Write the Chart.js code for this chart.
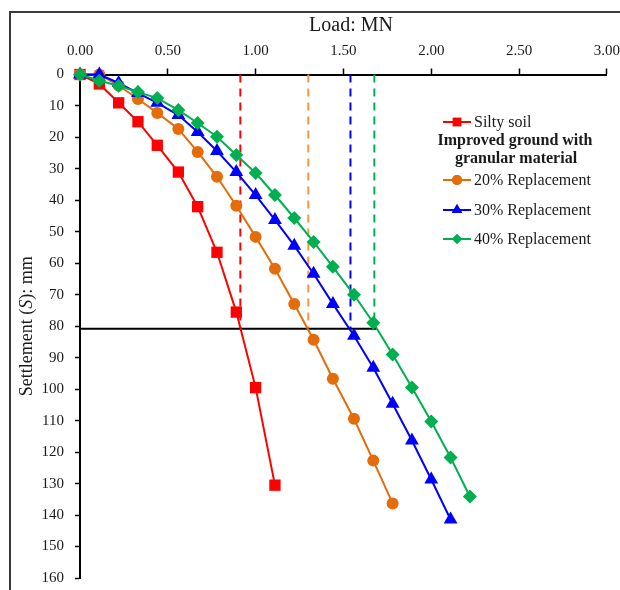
<!DOCTYPE html>
<html>
<head>
<meta charset="utf-8">
<script src="https://cdn.jsdelivr.net/npm/chart.js@4.4.1/dist/chart.umd.min.js"></script>
<style>
  body { margin: 0; background: #fff; overflow: hidden; }
  #frame { position: absolute; left: 9px; top: 11px; width: 700px; height: 700px; border: 2px solid #3a3a3a; }
  #myChart { position: absolute; left: 0; top: 0; }
</style>
</head>
<body>
<div id="frame"></div>
<canvas id="myChart" width="628" height="598"></canvas>
<script>
// loads (MN) at each stage
const loads = [0, 0.11, 0.22, 0.33, 0.44, 0.56, 0.67, 0.78, 0.89, 1.00, 1.11, 1.22, 1.33, 1.44, 1.56, 1.67, 1.78, 1.89, 2.00, 2.11, 2.22];
// settlements (mm)
const silty = [0, 3, 9, 15, 22.5, 31, 42, 56.5, 75.5, 99.5, 130.5];
const rep20 = [0, 0, 3.5, 7.8, 12.2, 17.3, 24.6, 32.5, 41.7, 51.6, 61.7, 72.9, 84.3, 96.7, 109.4, 122.7, 136.3];
const rep30 = [0, 0, 2.7, 5.9, 9.0, 12.9, 18.3, 24.3, 31.0, 38.3, 46.2, 54.4, 63.3, 72.9, 83.0, 93.2, 104.6, 116.3, 128.7, 141.4];
const rep40 = [0, 2, 3.6, 5.6, 7.5, 11.3, 15.4, 19.8, 25.6, 31.3, 38.3, 45.6, 53.2, 61.1, 70.0, 78.9, 89.0, 99.5, 110.3, 121.7, 134.1];
// ultimate loads read at the limit settlement
const limitSettlement = 80.8;
const ultimateLoads = [0.913, 1.30, 1.54, 1.676];
const limitLineEnd = 1.69;

const xTicks = [0, 0.5, 1, 1.5, 2, 2.5, 3];
const serif = "'Liberation Serif', 'Times New Roman', serif";
const txt = '#1a1a1a';

const seriesNames = ['Silty soil', '20% Replacement', '30% Replacement', '40% Replacement'];
const seriesColors = ['#FF0000', '#E46C0A', '#0000FF', '#00B050'];
const dashColors = ['#FF0000', '#F79646', '#0000FF', '#00B050'];
const seriesStyles = ['rect', 'circle', 'triangle', 'rectRot'];
const seriesRadius = [8, 6, 8, 7];
const seriesData = [silty, rep20, rep30, rep40];

function pts(vals){
    return vals.map((v, i) => ({x: loads[i], y: v}));
}

const datasets = [];
// curves, green on top
for (let i = 0; i < 4; i++) {
    datasets.push({
        label: seriesNames[i],
        data: pts(seriesData[i]),
        borderColor: seriesColors[i],
        backgroundColor: seriesColors[i],
        borderWidth: 2,
        pointStyle: seriesStyles[i],
        pointRadius: seriesRadius[i],
        pointBorderWidth: 0,
        pointHoverRadius: seriesRadius[i],
        clip: false,
        order: 4 - i
    });
}
// limit settlement line
datasets.push({
    label: 'limit',
    data: [{x: 0, y: limitSettlement}, {x: limitLineEnd, y: limitSettlement}],
    borderColor: '#000',
    borderWidth: 2,
    pointRadius: 0,
    clip: false,
    order: 10
});
for (let i = 0; i < 4; i++) {
    datasets.push({
        label: 'ult' + i,
        data: [{x: ultimateLoads[i], y: 0}, {x: ultimateLoads[i], y: limitSettlement}],
        borderColor: dashColors[i],
        borderWidth: 2,
        borderDash: [8, 6],
        pointRadius: 0,
        clip: false,
        order: 10
    });
}

const legendPlugin = {
    id: 'customLegend',
    afterDraw(chart){
        const c = chart.ctx;
        const h = Chart.helpers;
        c.save();
        c.fillStyle = txt;
        c.textBaseline = 'middle';
        const rows = [[0, 122], [1, 180], [2, 210], [3, 239]];
        const legendR = [6, 5, 6, 5];
        rows.forEach(([i, y]) => {
            c.strokeStyle = seriesColors[i];
            c.lineWidth = 2;
            c.beginPath();
            c.moveTo(443, y);
            c.lineTo(471, y);
            c.stroke();
            c.fillStyle = seriesColors[i];
            h.drawPoint(c, {pointStyle: seriesStyles[i], radius: legendR[i], borderWidth: 0}, 457, y);
            c.fill();
            c.fillStyle = txt;
            c.font = '16px ' + serif;
            c.textAlign = 'left';
            c.fillText(seriesNames[i], 474, y + 1);
        });
        c.font = 'bold 16px ' + serif;
        c.textAlign = 'center';
        c.fillText('Improved ground with', 515, 141);
        c.fillText('granular material', 516, 159);

        // x axis title
        c.font = '20px ' + serif;
        c.fillText('Load: MN', 351, 26);

        // y axis title with italic S
        const area = chart.chartArea;
        c.translate(27, (area.top + area.bottom) / 2);
        c.rotate(-Math.PI / 2);
        const parts = [['Settlement (', '18px '], ['S', 'italic 18px '], ['): mm', '18px ']];
        let total = 0;
        parts.forEach(p => { c.font = p[1] + serif; total += c.measureText(p[0]).width; });
        let x = -total / 2;
        c.textAlign = 'left';
        parts.forEach(p => {
            c.font = p[1] + serif;
            c.fillText(p[0], x, 0);
            x += c.measureText(p[0]).width;
        });
        c.restore();
    }
};

const ctx = document.getElementById('myChart').getContext('2d');
const MyChart = new Chart(ctx, {
    type: 'line',
    data: { datasets: datasets },
    options: {
        responsive: false,
        animation: false,
        events: [],
        layout: { padding: { left: 0, top: 0, right: 1, bottom: 4 } },
        plugins: { legend: { display: false }, tooltip: { enabled: false } },
        scales: {
            x: {
                type: 'linear',
                position: 'top',
                min: 0,
                max: 3,
                afterBuildTicks(scale){ scale.ticks = xTicks.map(v => ({value: v})); },
                afterFit(scale){ scale.height = 74.5; },
                ticks: {
                    callback: v => v.toFixed(2),
                    color: txt,
                    font: { family: serif, size: 15 },
                    padding: 8,
                    maxRotation: 0,
                    autoSkip: false
                },
                grid: { drawOnChartArea: false, color: '#000', tickLength: 6, tickWidth: 1.5 },
                border: { color: '#000', width: 2 }
            },
            y: {
                type: 'linear',
                reverse: true,
                min: 0,
                max: 160,
                afterFit(scale){ scale.width = 80; },
                ticks: {
                    stepSize: 10,
                    color: txt,
                    font: { family: serif, size: 15 },
                    padding: 11,
                    autoSkip: false
                },
                grid: { drawOnChartArea: false, color: '#000', tickLength: 5, tickWidth: 1.5 },
                border: { color: '#000', width: 2 }
            }
        }
    },
    plugins: [legendPlugin]
});
</script>
</body>
</html>
